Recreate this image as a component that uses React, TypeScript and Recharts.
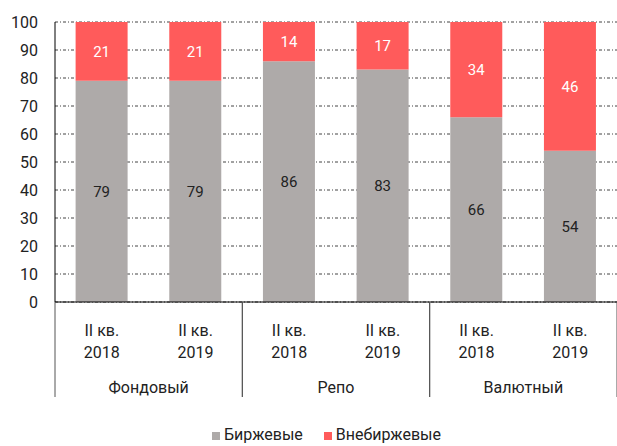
import { BarChart, Bar, XAxis, YAxis, CartesianGrid, LabelList, Legend } from 'recharts'

const quarters = ['II кв.', 'II кв.', 'II кв.', 'II кв.', 'II кв.', 'II кв.']
const years = ['2018', '2019', '2018', '2019', '2018', '2019']
const groups = ['Фондовый', 'Фондовый', 'Репо', 'Репо', 'Валютный', 'Валютный']
const exchange = [79, 79, 86, 83, 66, 54]
const otc = [21, 21, 14, 17, 34, 46]
const yTicks = [0, 10, 20, 30, 40, 50, 60, 70, 80, 90, 100]

const GRAY = '#aeaaa9'
const RED = '#ff5b5b'
const FONT = 'Roboto, "Noto Sans", sans-serif'

const data = quarters.map((q, i) => ({
  key: `${i}`,
  exchange: exchange[i],
  otc: otc[i],
}))

const W = 617
const H = 446
const LEFT = 55

function PeriodTick(props: any) {
  const { x, y, payload, index } = props
  const half = payload?.offset ?? (W - LEFT) / 12
  const i = index ?? payload?.index ?? 0
  return (
    <g fontFamily={FONT} fontSize={16} fill="#222">
      <text x={x} y={y + 34} textAnchor="middle" fill="#222">{quarters[i]}</text>
      <text x={x} y={y + 56} textAnchor="middle" fill="#222">{years[i]}</text>
      {i % 2 === 0 && (
        <line x1={x - half} x2={x - half} y1={y} y2={y + 95} stroke="#555" strokeWidth={1} />
      )}
      {i % 2 === 1 && (
        <>
          <text x={x - half} y={y + 91} textAnchor="middle" fill="#222">{groups[i]}</text>
          <line x1={x + half} x2={x + half} y1={y} y2={y + 95} stroke="#555" strokeWidth={1} />
        </>
      )}
    </g>
  )
}

function LegendContent() {
  const items = [
    { label: 'Биржевые', color: GRAY },
    { label: 'Внебиржевые', color: RED },
  ]
  return (
    <div style={{ display: 'flex', paddingLeft: 212, fontFamily: FONT, fontSize: 16, lineHeight: '20px', color: '#222' }}>
      {items.map((it) => (
        <div key={it.label} style={{ display: 'flex', alignItems: 'center', marginRight: 21 }}>
          <span style={{ width: 8, height: 8, background: it.color, marginRight: 4, marginTop: 2 }} />
          <span>{it.label}</span>
        </div>
      ))}
    </div>
  )
}

export default function App() {
  return (
    <div style={{ position: 'absolute', left: 0, top: 0, width: W, height: H, background: '#fff', overflow: 'hidden' }}>
      <BarChart
        width={W}
        height={H}
        data={data}
        margin={{ top: 22, right: 0, left: 0, bottom: 0 }}
        barCategoryGap="22%"
      >
        <CartesianGrid
          vertical={false}
          stroke="#444"
          strokeDasharray="3 2 1 2"
        />
        <XAxis
          dataKey="key"
          height={144}
          tickLine={false}
          tickSize={0}
          tickMargin={0}
          axisLine={{ stroke: '#000', strokeWidth: 1 }}
          tick={<PeriodTick />}
          interval={0}
        />
        <YAxis
          width={LEFT}
          domain={[0, 100]}
          ticks={yTicks}
          interval={0}
          tickLine={false}
          tickSize={6}
          tickMargin={11}
          axisLine={{ stroke: '#000', strokeWidth: 1 }}
          tick={{ fontSize: 16, fill: '#222', fontFamily: FONT }}
        />
        <Legend
          layout="horizontal"
          verticalAlign="middle"
          align="center"
          wrapperStyle={{ top: 425, left: 0, width: W }}
          content={<LegendContent />}
        />
        <Bar dataKey="exchange" stackId="a" fill={GRAY} isAnimationActive={false}>
          <LabelList dataKey="exchange" position="center" fill="#222" fontSize={15} fontFamily={FONT} />
        </Bar>
        <Bar dataKey="otc" stackId="a" fill={RED} isAnimationActive={false}>
          <LabelList dataKey="otc" position="center" fill="#fff" fontSize={15} fontFamily={FONT} />
        </Bar>
      </BarChart>
    </div>
  )
}
